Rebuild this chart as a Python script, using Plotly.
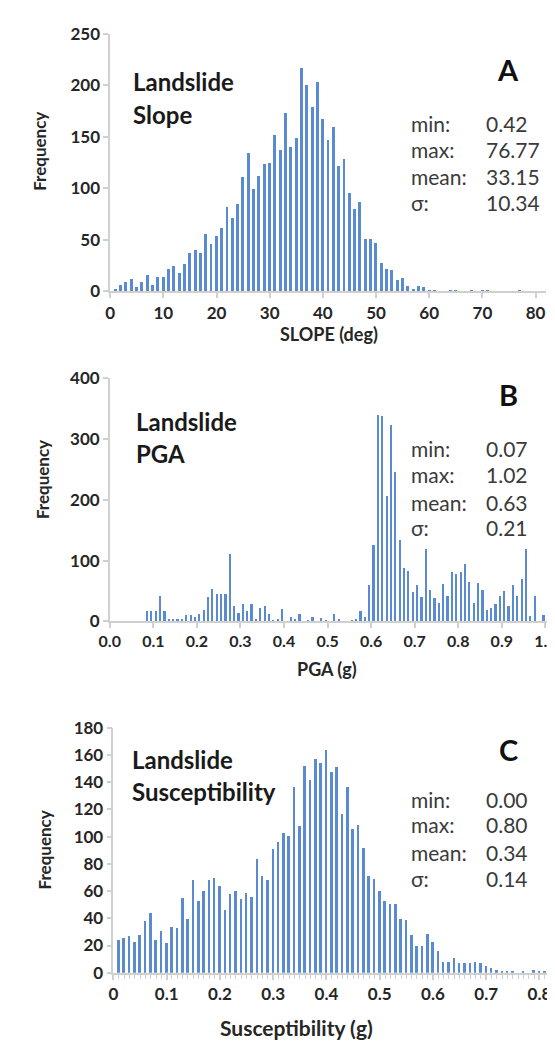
import plotly.graph_objects as go

W, H = 555, 1046

# ---------------- data ----------------
# Panel A: landslide slope (deg)
A_bins = list(range(1, 60)) + [60, 61, 64, 65, 68, 70, 71, 77]
A_freq = [3, 7, 9, 12, 5, 9, 16, 7, 14, 14, 22, 25, 18, 27, 38, 40, 38, 56, 46, 54,
          62, 82, 72, 85, 111, 135, 100, 112, 124, 125, 152, 137, 173, 140, 149, 217,
          201, 179, 203, 168, 147, 160, 122, 129, 96, 80, 87, 51, 51, 47, 28, 22, 21,
          11, 13, 6, 3, 6, 5,
          1, 1, 1, 1, 1, 1, 1, 1]

# Panel B: landslide PGA (g), bin centres
B_centres = [0.085, 0.095, 0.105, 0.115, 0.125, 0.135, 0.145, 0.155, 0.165, 0.175,
             0.185, 0.195, 0.205, 0.215, 0.225, 0.235, 0.245, 0.255, 0.265, 0.275,
             0.285, 0.295, 0.305, 0.315, 0.325, 0.335, 0.345, 0.355, 0.365, 0.375,
             0.385, 0.395, 0.405, 0.415, 0.425, 0.435, 0.445, 0.455, 0.465, 0.475,
             0.485, 0.495, 0.505, 0.515, 0.525, 0.535, 0.545, 0.555, 0.565, 0.575,
             0.585, 0.595, 0.605, 0.615, 0.625, 0.635, 0.645, 0.655, 0.665, 0.675,
             0.685, 0.695, 0.705, 0.715, 0.725, 0.735, 0.745, 0.755, 0.765, 0.775,
             0.785, 0.795, 0.805, 0.815, 0.825, 0.835, 0.845, 0.855, 0.865, 0.875,
             0.885, 0.895, 0.905, 0.915, 0.925, 0.935, 0.945, 0.955, 0.965, 0.975,
             0.985, 0.995, 1.005, 1.015, 1.025, 1.035]
B_freq = [16, 17, 17, 42, 16, 4, 4, 3, 3, 10,
          10, 6, 11, 18, 39, 52, 45, 44, 45, 111,
          25, 13, 28, 16, 28, 3, 21, 25, 11, 2,
          4, 20, 0, 7, 3, 11, 0, 2, 7, 0,
          5, 2, 0, 12, 4, 0, 0, 1, 4, 17,
          6, 60, 125, 339, 338, 206, 323, 245, 133, 88,
          82, 47, 60, 39, 119, 51, 38, 30, 61, 42,
          80, 77, 81, 94, 64, 29, 63, 51, 18, 21,
          28, 41, 49, 24, 60, 42, 69, 119, 9, 41,
          0, 10, 4, 4, 0, 3]

# Panel C: landslide susceptibility, bin centres
C_centres = [0.01, 0.02, 0.03, 0.04, 0.05, 0.06, 0.07, 0.08, 0.09, 0.10,
             0.11, 0.12, 0.13, 0.14, 0.15, 0.16, 0.17, 0.18, 0.19, 0.20,
             0.21, 0.22, 0.23, 0.24, 0.25, 0.26, 0.27, 0.28, 0.29, 0.30,
             0.31, 0.32, 0.33, 0.34, 0.35, 0.36, 0.37, 0.38, 0.39, 0.40,
             0.41, 0.42, 0.43, 0.44, 0.45, 0.46, 0.47, 0.48, 0.49, 0.50,
             0.51, 0.52, 0.53, 0.54, 0.55, 0.56, 0.57, 0.58, 0.59, 0.60,
             0.61, 0.62, 0.63, 0.64, 0.65, 0.66, 0.67, 0.68, 0.69, 0.70,
             0.71, 0.72, 0.73, 0.74, 0.75, 0.76, 0.77, 0.78, 0.79, 0.80, 0.81]
C_freq = [24, 26, 27, 23, 28, 38, 44, 24, 31, 22,
          34, 33, 55, 40, 68, 53, 60, 68, 70, 64,
          46, 58, 60, 54, 59, 56, 84, 71, 68, 91,
          96, 103, 101, 137, 108, 152, 142, 157, 154, 164,
          148, 151, 117, 137, 106, 109, 92, 71, 69, 60,
          53, 51, 51, 40, 39, 28, 20, 20, 29, 23,
          16, 8, 8, 11, 7, 7, 7, 8, 7, 5,
          4, 2, 1, 1, 1, 0, 1, 0, 2, 1, 1]

stat_labels = ["min:", "max:", "mean:", "σ:"]
A_stats = ["0.42", "76.77", "33.15", "10.34"]
B_stats = ["0.07", "1.02", "0.63", "0.21"]
C_stats = ["0.00", "0.80", "0.34", "0.14"]

A_ticks = [0, 10, 20, 30, 40, 50, 60, 70, 80]
B_ticks = [0.0, 0.1, 0.2, 0.3, 0.4, 0.5, 0.6, 0.7, 0.8, 0.9, 1.0]
C_ticks = [0, 0.1, 0.2, 0.3, 0.4, 0.5, 0.6, 0.7, 0.8]

# ---------------- styling ----------------
FONT = "Lato"
BAR = "#5a8ad2"
AXC = "#d0d0d0"


def tickfont(size=17):
    return dict(family=FONT, size=size, color="#262626", weight="bold")


def px(x):
    return x / W


def py(y):
    return 1 - y / H


fig = go.Figure()
fig.add_trace(go.Bar(x=A_bins, y=A_freq, width=0.55, marker=dict(color=BAR, line=dict(width=0)),
                     xaxis="x", yaxis="y"))
fig.add_trace(go.Bar(x=B_centres, y=B_freq, width=0.005, marker=dict(color=BAR, line=dict(width=0)),
                     xaxis="x2", yaxis="y2"))
fig.add_trace(go.Bar(x=C_centres, y=C_freq, width=0.0048, marker=dict(color=BAR, line=dict(width=0)),
                     xaxis="x3", yaxis="y3"))


def xax(domain, rng, ticks, anchor, fmt=None, minor=None, fsize=17):
    d = dict(domain=domain, range=rng, tickvals=ticks, anchor=anchor,
             showgrid=False, zeroline=False, showline=True, linecolor=AXC, linewidth=1.5,
             ticks="outside", ticklen=5, tickcolor=AXC, tickwidth=1.5,
             tickfont=tickfont(fsize), fixedrange=True)
    if fmt:
        d["tickformat"] = fmt
    if minor:
        d["minor"] = minor
    return d


def yax(domain, rng, dt, anchor):
    return dict(domain=domain, range=rng, dtick=dt, anchor=anchor,
                showgrid=False, zeroline=False, showline=True, linecolor=AXC, linewidth=1.5,
                ticks="outside", ticklen=5, tickcolor=AXC, tickwidth=1.5,
                tickfont=tickfont(17), fixedrange=True)


# Panel A: x 0 at 93, 80 at 527 ; y 0 at 278, 250 at 15
a_l, a_ppu = 93.0, (527 - 93) / 80
fig.update_layout(
    xaxis=xax([px(a_l), px(a_l + 82 * a_ppu)], [0, 82], A_ticks, "y"),
    yaxis=yax([py(278), py(15)], [0, 250], 50, "x"),
)
# Panel B: x 0 at 92.6, 1.0 at 537 ; y 0 at 614.7, 400 at 366.7
b_l, b_ppu = 92.6, (537 - 92.6)
fig.update_layout(
    xaxis2=xax([px(b_l), 1.0], [0, (W - b_l) / b_ppu], B_ticks, "y2", fmt=".1f", fsize=16),
    yaxis2=yax([py(614.7), py(366.7)], [0, 400], 100, "x2"),
)
# Panel C: x 0 at 96.3, 0.8 at 531 ; y 0 at 973.3, 180 at 723.3
c_l, c_ppu = 96.3, (531 - 96.3) / 0.8
fig.update_layout(
    xaxis3=xax([px(c_l), px(c_l + 0.833 * c_ppu)], [0, 0.833], C_ticks, "y3",
               minor=dict(dtick=0.01, ticks="outside", ticklen=4, tickcolor=AXC, tickwidth=1)),
    yaxis3=yax([py(973.3), py(723.3)], [0, 180], 20, "x3"),
)

ann = []


def text(x, y, s, size, color="#1a1a1a", weight="normal", xanchor="left", angle=0):
    ann.append(dict(x=px(x), y=py(y), xref="paper", yref="paper", text=s, showarrow=False,
                    xanchor=xanchor, yanchor="middle", textangle=angle,
                    font=dict(family=FONT, size=size, color=color, weight=weight)))


# Panel titles, letters, stats
panels = [
    (["Landslide", "Slope"], [64, 97], 114, "A", 52, A_stats, [107, 133, 161, 187],
     "Frequency", 21, 135, "SLOPE (deg)", 316, 321, 18),
    (["Landslide", "PGA"], [411, 443], 117, "B", 383, B_stats, [438, 465, 493, 519],
     "Frequency", 24, 470, "PGA (g)", 314, 663, 18),
    (["Landslide", "Susceptibility"], [756, 788], 113, "C", 745, C_stats, [796, 822, 851, 877],
     "Frequency", 27, 848, "Susceptibility (g)", 283, 1029, 21),
]
for names, ny, nx, letter, ly, stats, sy, ytitle, ytx, yty, xtitle, xtx, xty, xts in panels:
    for n, yy in zip(names, ny):
        text(nx, yy, n, 24, color="#1a1a1a", weight="bold")
    text(499, ly, letter, 29, color="#111111", weight="bold", xanchor="center")
    for lab, val, yy in zip(stat_labels, stats, sy):
        text(398, yy, lab, 21, color="#3a3a3a")
        text(474, yy, val, 21, color="#3a3a3a")
    text(ytx, yty, ytitle, 17, color="#262626", weight="bold", xanchor="center", angle=-90)
    text(xtx, xty, xtitle, xts, color="#262626", weight="bold", xanchor="center")

fig.update_layout(
    annotations=ann,
    width=W, height=H,
    margin=dict(l=0, r=0, t=0, b=0),
    paper_bgcolor="white", plot_bgcolor="white",
    showlegend=False, bargap=0,
    font=dict(family=FONT),
)

fig.write_html("out.html", config={"displayModeBar": False})
